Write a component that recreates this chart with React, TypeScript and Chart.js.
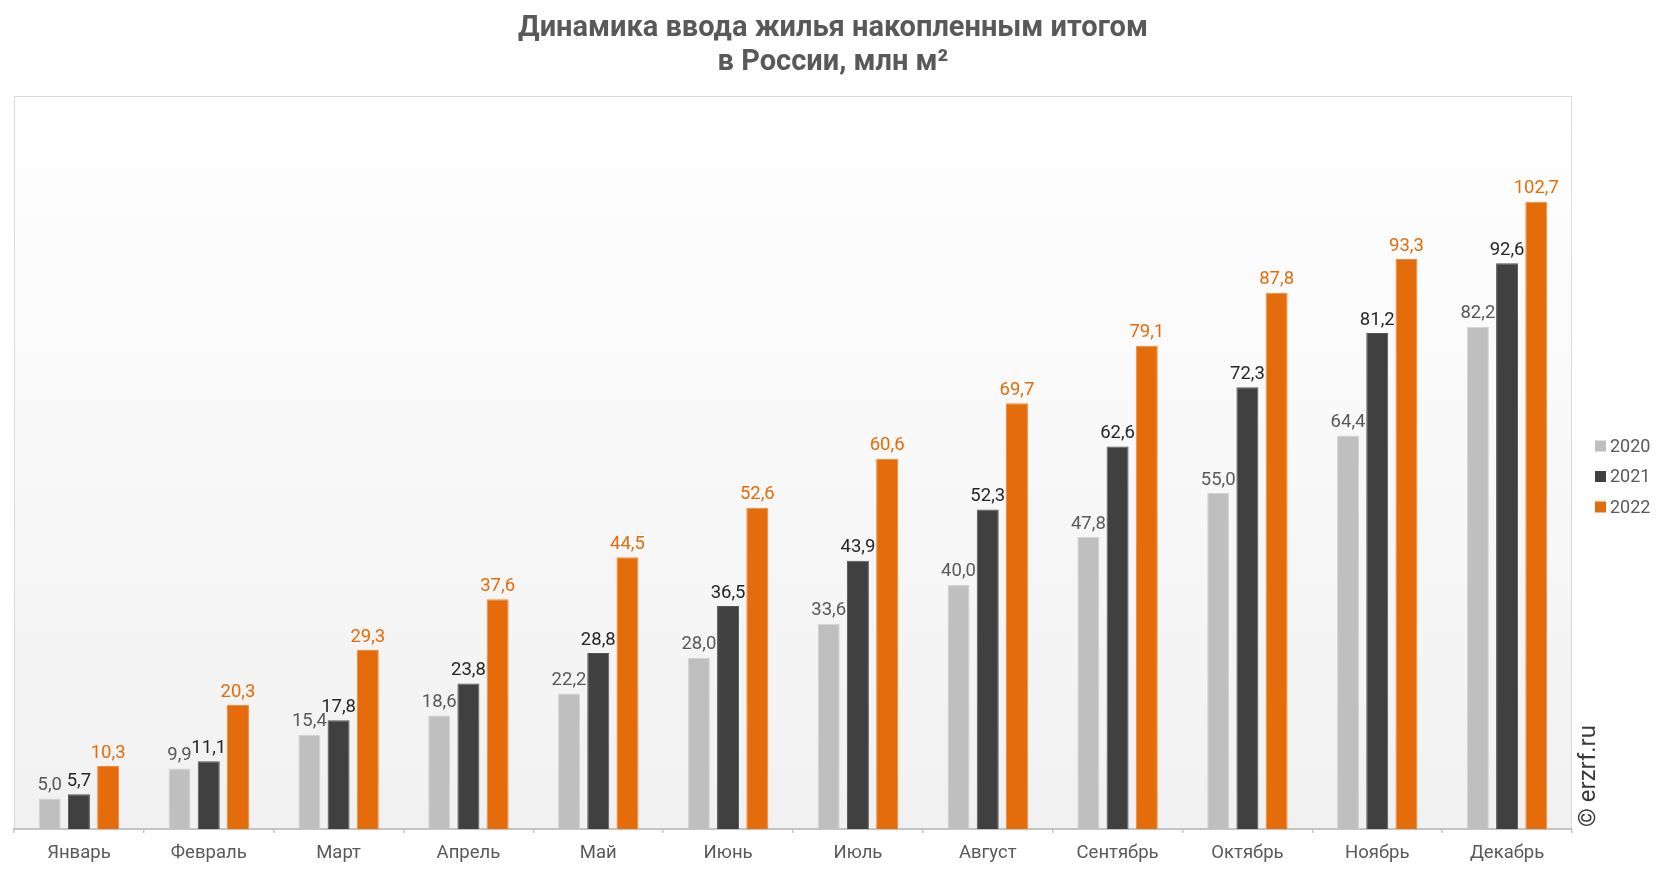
import React, { useEffect, useRef } from "react";
import { Chart, registerables } from "chart.js";

Chart.register(...registerables);

const months = [
  "Январь", "Февраль", "Март", "Апрель", "Май", "Июнь",
  "Июль", "Август", "Сентябрь", "Октябрь", "Ноябрь", "Декабрь",
];
const seriesNames = ["2020", "2021", "2022"];
const values2020 = [5.0, 9.9, 15.4, 18.6, 22.2, 28.0, 33.6, 40.0, 47.8, 55.0, 64.4, 82.2];
const values2021 = [5.7, 11.1, 17.8, 23.8, 28.8, 36.5, 43.9, 52.3, 62.6, 72.3, 81.2, 92.6];
const values2022 = [10.3, 20.3, 29.3, 37.6, 44.5, 52.6, 60.6, 69.7, 79.1, 87.8, 93.3, 102.7];
const titleLines = ["Динамика ввода жилья накопленным итогом", "в России, млн м²"];
const watermark = "© erzrf.ru";

const barColors = ["#bfbfbf", "#404040", "#e46c0a"];
const barBorders = ["#d4d4d4", "#555555", "#f08a3c"];
const labelColors = ["#595959", "#262626", "#e46c0a"];
const FONT = "Roboto, 'Noto Sans', sans-serif";

const W = 1666;
const H = 872;

const plotBgPlugin = {
  id: "plotBg",
  beforeDraw(chart: any) {
    const { ctx, chartArea: a } = chart;
    ctx.save();
    const g = ctx.createLinearGradient(0, a.top, 0, a.bottom);
    g.addColorStop(0, "#ffffff");
    g.addColorStop(1, "#f1f1f1");
    ctx.fillStyle = g;
    ctx.fillRect(a.left, a.top, a.right - a.left, a.bottom - a.top);
    ctx.strokeStyle = "#dadada";
    ctx.lineWidth = 1;
    ctx.strokeRect(a.left + 0.5, a.top + 0.5, a.right - a.left - 1, a.bottom - a.top);
    ctx.restore();
  },
};

const valueLabelsPlugin = {
  id: "valueLabels",
  afterDatasetsDraw(chart: any) {
    const { ctx } = chart;
    ctx.save();
    ctx.font = `18.5px ${FONT}`;
    ctx.textAlign = "center";
    ctx.textBaseline = "alphabetic";
    chart.data.datasets.forEach((ds: any, i: number) => {
      const meta = chart.getDatasetMeta(i);
      ctx.fillStyle = labelColors[i];
      meta.data.forEach((bar: any, j: number) => {
        const v = ds.data[j] as number;
        ctx.fillText(v.toFixed(1).replace(".", ","), bar.x, bar.y - 8.5);
      });
    });
    ctx.restore();
  },
};

const decorPlugin = {
  id: "decor",
  afterDraw(chart: any) {
    const { ctx } = chart;
    ctx.save();
    // title
    ctx.fillStyle = "#595959";
    ctx.font = `bold 29px ${FONT}`;
    ctx.textAlign = "center";
    ctx.textBaseline = "alphabetic";
    ctx.fillText(titleLines[0], W / 2, 36);
    ctx.fillText(titleLines[1], W / 2, 70);

    // legend
    ctx.font = `18px ${FONT}`;
    ctx.textAlign = "left";
    ctx.textBaseline = "middle";
    const legendY = [446, 476.5, 507];
    chart.data.datasets.forEach((ds: any, i: number) => {
      ctx.fillStyle = ds.backgroundColor;
      ctx.fillRect(1595, legendY[i] - 5.5, 11, 11);
      ctx.fillStyle = "#595959";
      ctx.fillText(ds.label, 1610, legendY[i] + 1);
    });

    // watermark
    ctx.translate(1589, 827);
    ctx.rotate(-Math.PI / 2);
    ctx.font = `24px ${FONT}`;
    ctx.fillStyle = "#3a3a3a";
    ctx.textAlign = "left";
    ctx.textBaseline = "middle";
    ctx.fillText(watermark, 0, 0);
    ctx.restore();
  },
};

export default function App() {
  const ref = useRef<HTMLCanvasElement | null>(null);

  useEffect(() => {
    if (!ref.current) return;
    const series = [values2020, values2021, values2022];
    const chart = new Chart(ref.current, {
      type: "bar",
      data: {
        labels: months,
        datasets: series.map((vals, i) => ({
          label: seriesNames[i],
          data: vals,
          backgroundColor: barColors[i],
          borderColor: barBorders[i],
          borderWidth: 1,
          categoryPercentage: 0.675,
          barPercentage: 0.753,
        })),
      },
      options: {
        animation: false,
        responsive: true,
        maintainAspectRatio: false,
        devicePixelRatio: 1,
        layout: { padding: { left: 14, top: 96, right: W - 1572, bottom: 0 } },
        plugins: {
          legend: { display: false },
          title: { display: false },
          tooltip: { enabled: false },
        },
        scales: {
          x: {
            offset: true,
            grid: {
              offset: true,
              drawOnChartArea: false,
              drawTicks: true,
              tickLength: 4,
              color: "#c4c4c4",
              lineWidth: 1.5,
            },
            border: { display: true, color: "#c4c4c4", width: 2 },
            ticks: {
              color: "#595959",
              font: { family: FONT, size: 18.5 },
              padding: 9,
              maxRotation: 0,
              autoSkip: false,
            },
            afterFit: (scale: any) => {
              scale.height = H - 829;
            },
          },
          y: {
            display: false,
            min: 0,
            max: 120,
          },
        },
      },
      plugins: [plotBgPlugin, valueLabelsPlugin, decorPlugin],
    });
    return () => chart.destroy();
  }, []);

  return (
    <div
      style={{
        position: "fixed",
        left: 0,
        top: 0,
        width: W,
        height: H,
        background: "#ffffff",
      }}
    >
      <canvas ref={ref} />
    </div>
  );
}
